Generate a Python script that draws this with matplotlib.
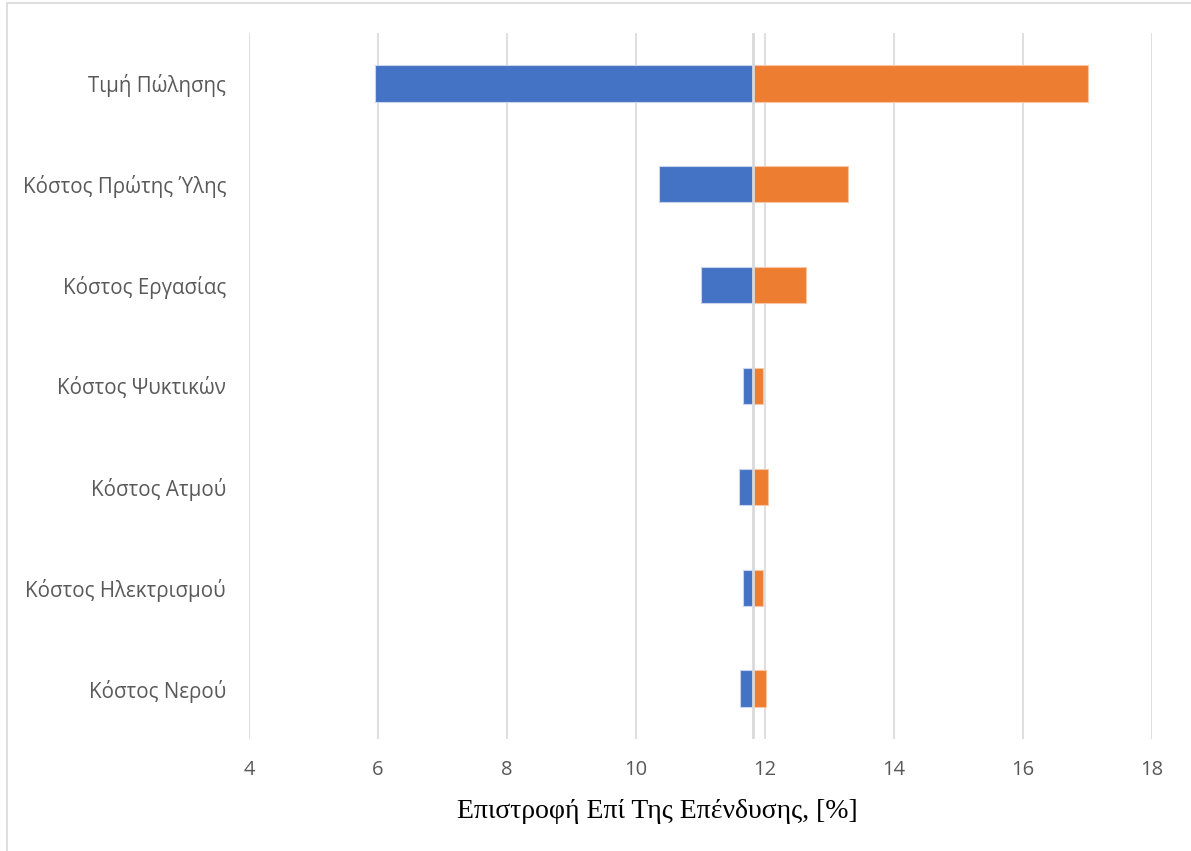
import matplotlib
matplotlib.use("Agg")
import matplotlib.pyplot as plt
from matplotlib.patches import Rectangle

# Sensitivity of return on investment to each cost/price parameter
categories = ["Τιμή Πώλησης", "Κόστος Πρώτης Ύλης", "Κόστος Εργασίας",
              "Κόστος Ψυκτικών", "Κόστος Ατμού", "Κόστος Ηλεκτρισμού",
              "Κόστος Νερού"]
low_values = [5.95, 10.36, 11.00, 11.66, 11.60, 11.66, 11.62]
high_values = [17.00, 13.28, 12.64, 11.97, 12.04, 11.97, 12.02]
base_value = 11.81
x_ticks = [4, 6, 8, 10, 12, 14, 16, 18]
x_label = "Επιστροφή Επί Της Επένδυσης, [%]"

W, H = 1191, 851
fig = plt.figure(figsize=(W / 100, H / 100), dpi=100)
fig.patch.set_facecolor("white")

# light outer frame
fig.patches.append(Rectangle((7 / W, 0 - 0.01), 1.02, 1 - 3 / H + 0.01,
                             transform=fig.transFigure, fill=False,
                             edgecolor="#d9d9d9", linewidth=1.2))

left, right = 249 / W, 1152 / W
top, bottom = 1 - 33 / H, 1 - 739 / H
ax = fig.add_axes([left, bottom, right - left, top - bottom])

y = list(range(len(categories)))
blue = "#4472c4"
orange = "#ed7d31"
bar_h = 0.36

for i in y:
    lo, hi = low_values[i], high_values[i]
    ax.barh(i, base_value - lo, left=lo, height=bar_h, color=blue,
            edgecolor="#c9d5ee", linewidth=0.8, zorder=3)
    ax.barh(i, hi - base_value, left=base_value, height=bar_h, color=orange,
            edgecolor="#f7c7a5", linewidth=0.8, zorder=3)

ax.axvline(base_value, color="#d9d9d9", linewidth=2.0, zorder=4)

ax.set_xlim(4, 18)
ax.set_ylim(len(categories) - 0.5, -0.5)
ax.set_xticks(x_ticks)
ax.set_xticklabels([str(t) for t in x_ticks])
ax.set_yticks(y)
ax.set_yticklabels(categories)

ax.grid(axis="x", color="#d9d9d9", linewidth=1.2, zorder=0)
ax.set_axisbelow(True)
for s in ax.spines.values():
    s.set_visible(False)
ax.tick_params(axis="both", length=0, colors="#595959")
ax.tick_params(axis="x", pad=15, labelsize=14.5)
ax.tick_params(axis="y", pad=16.5, labelsize=14.8)
for lab in ax.get_xticklabels() + ax.get_yticklabels():
    lab.set_fontfamily(["Open Sans", "DejaVu Sans"])
    lab.set_color("#595959")

fig.text(657 / W, 1 - 812 / H, x_label, ha="center", va="center",
         fontsize=20, family=["Liberation Serif", "DejaVu Serif"],
         color="black")

fig.savefig("out.png", dpi=100)
